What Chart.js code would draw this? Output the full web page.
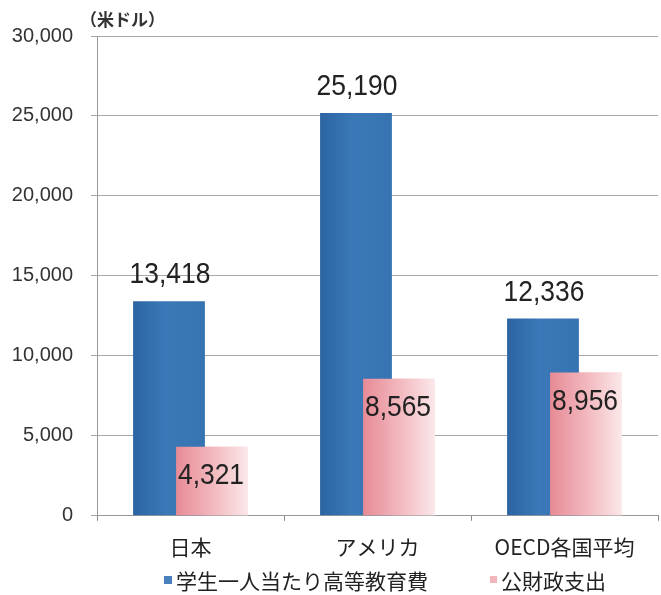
<!DOCTYPE html>
<html>
<head>
<meta charset="utf-8">
<script src="https://cdn.jsdelivr.net/npm/chart.js@4"></script>
<style>
  html, body { margin: 0; padding: 0; background: #fff; }
  #wrap { width: 661px; height: 595px; }
</style>
</head>
<body>
<div id="wrap"><canvas id="eduChart" width="661" height="595"></canvas></div>
<script>
// データ
const categories = ["日本", "アメリカ", "OECD各国平均"];
const perStudent = [13418, 25190, 12336];   // 学生一人当たり高等教育費
const publicSpend = [4321, 8565, 8956];     // 公財政支出
const seriesNames = ["学生一人当たり高等教育費", "公財政支出"];
const yTicks = [0, 5000, 10000, 15000, 20000, 25000, 30000];
const unitLabel = "（米ドル）";

const CAT_PCT = 0.46;
const BAR_PCT = 1.67;
const jpFont = '"Noto Sans CJK JP", "Noto Sans", sans-serif';
const numFont = '"Liberation Sans", Arial, sans-serif';

// 棒のグラデーション (横方向)
function barGradient(stops, solid) {
  return (ctx) => {
    const chart = ctx.chart;
    if (ctx.type !== "data" || !chart.chartArea || !chart.scales.x) return solid;
    const x = chart.scales.x;
    const center = x.getPixelForValue(ctx.dataIndex);
    const slot = (x.width / categories.length) * CAT_PCT / 2;
    const mid = center + (ctx.datasetIndex === 0 ? -slot / 2 : slot / 2);
    const w = slot * BAR_PCT;
    const g = chart.ctx.createLinearGradient(mid - w / 2, 0, mid + w / 2, 0);
    stops.forEach(([p, c]) => g.addColorStop(p, c));
    return g;
  };
}

const blueFill = barGradient([[0, "#2c64a2"], [0.45, "#3a78b7"], [1, "#3673b1"]], "#3672b0");
const pinkFill = barGradient([[0, "#e78b96"], [0.5, "#f2b7bd"], [1, "#fbe8ea"]], "#f0aeb5");

// 細長い数字 (縦長フォントの代わりに横を縮める)
function narrowText(ctx, text, x, y) {
  ctx.save();
  ctx.translate(x, y);
  ctx.scale(0.88, 1);
  ctx.fillText(text, 0, 0);
  ctx.restore();
}

// 公財政支出を手前に描く + 数値ラベル + 凡例 + 単位
const overlayPlugin = {
  id: "overlay",
  afterDatasetsDraw(chart) {
    const pinkMeta = chart.getDatasetMeta(1);
    pinkMeta.controller.draw();

    const ctx = chart.ctx;
    ctx.save();
    ctx.fillStyle = "#222";
    ctx.font = "30px " + numFont;
    ctx.textAlign = "center";
    ctx.textBaseline = "middle";
    chart.getDatasetMeta(0).data.forEach((bar, i) => {
      narrowText(ctx, perStudent[i].toLocaleString("en-US"), bar.x + 1, bar.y - 26);
    });
    pinkMeta.data.forEach((bar, i) => {
      narrowText(ctx, publicSpend[i].toLocaleString("en-US"), bar.x - 1, bar.y + 29);
    });
    ctx.restore();
  },
  afterDraw(chart) {
    const ctx = chart.ctx;
    ctx.save();
    // 単位
    ctx.fillStyle = "#333";
    ctx.font = "bold 17px " + jpFont;
    ctx.textAlign = "left";
    ctx.textBaseline = "middle";
    ctx.fillText(unitLabel, 80, 20);

    // 凡例
    ctx.font = "21px " + jpFont;
    const legendY = 581;
    const items = [
      { x: 164, color: "#4a80bf", size: 8 },
      { x: 490, color: "#f2b6bc", size: 7 }
    ];
    items.forEach((it, i) => {
      ctx.fillStyle = it.color;
      ctx.fillRect(it.x, legendY - 5, it.size, it.size);
      ctx.fillStyle = "#222";
      ctx.fillText(seriesNames[i], it.x + it.size + 4, legendY);
    });
    ctx.restore();
  }
};

new Chart(document.getElementById("eduChart"), {
  type: "bar",
  data: {
    labels: categories,
    datasets: [
      {
        label: seriesNames[0],
        data: perStudent,
        backgroundColor: blueFill,
        categoryPercentage: CAT_PCT,
        barPercentage: BAR_PCT
      },
      {
        label: seriesNames[1],
        data: publicSpend,
        backgroundColor: pinkFill,
        categoryPercentage: CAT_PCT,
        barPercentage: BAR_PCT
      }
    ]
  },
  options: {
    responsive: false,
    animation: false,
    layout: { padding: { top: 36, right: 3, bottom: 21, left: 0 } },
    plugins: {
      legend: { display: false },
      tooltip: { enabled: false }
    },
    scales: {
      x: {
        grid: {
          offset: true,
          drawOnChartArea: false,
          tickLength: 5,
          color: "#888"
        },
        border: { color: "#999" },
        ticks: {
          color: "#222",
          padding: 14,
          font: { family: jpFont, size: 21 }
        }
      },
      y: {
        min: 0,
        max: 30000,
        afterFit(scale) { scale.width = 97; },
        afterBuildTicks(scale) { scale.ticks = yTicks.map(v => ({ value: v })); },
        grid: { color: "#a8a8a8", tickLength: 6 },
        border: { color: "#999" },
        ticks: {
          color: "#333",
          padding: 18,
          font: { family: numFont, size: 20 },
          callback: (v) => Number(v).toLocaleString("en-US")
        }
      }
    }
  },
  plugins: [overlayPlugin]
});
</script>
</body>
</html>
